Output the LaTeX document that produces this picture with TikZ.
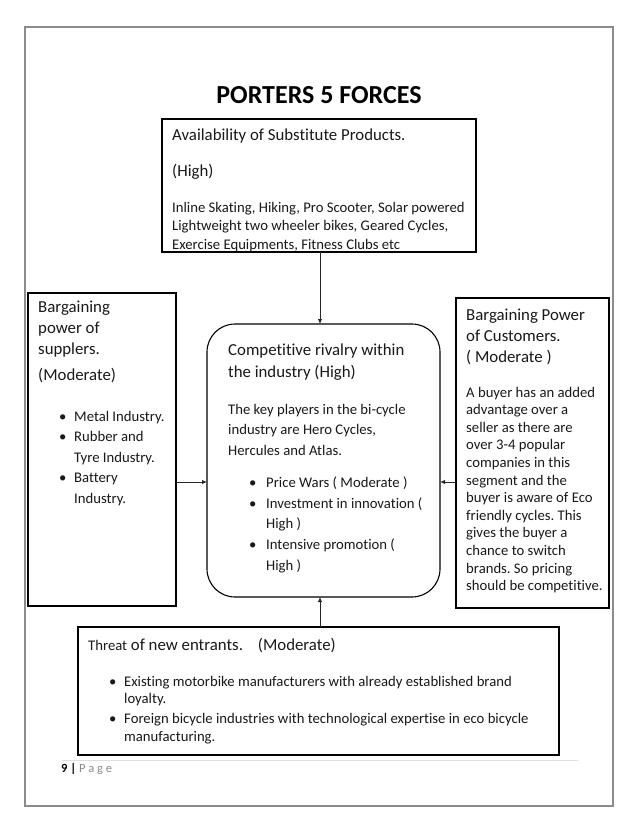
\documentclass[tikz,border=0pt]{standalone}
\usepackage{fontspec}
\setmainfont[Ligatures=NoCommon]{Carlito}
\usetikzlibrary{arrows.meta}
\frenchspacing
\begin{document}
\begin{tikzpicture}[x=1pt,y=-1pt,
  box/.style={draw=black,line width=1.1pt,inner sep=0pt,outer sep=0pt,anchor=north west},
  hd/.style={anchor=base west,inner sep=0pt,text=black!90,font=\fontsize{16.8}{20}\selectfont},
  bd/.style={anchor=base west,inner sep=0pt,text=black!90,font=\fontsize{14.7}{18}\selectfont},
  arr/.style={draw=black!85,line width=0.9pt,-{Latex[length=5pt,width=4.5pt]}}
]
\path[use as bounding box] (0,0) rectangle (638,826);
\fill[white] (0,0) rectangle (638,826);
% page border
\draw[black!45,line width=1.6pt] (25,27) rectangle (613,806);
\draw[black!12,line width=0.8pt] (62,760) -- (578,760);

% title
\node[anchor=base,inner sep=0pt,font=\bfseries\fontsize{26}{30}\selectfont] (title) at (319,104) {PORTERS 5 FORCES};

% boxes
\node[box,minimum width=314pt,minimum height=133pt] (sub) at (162,119) {};
\node[box,minimum width=148pt,minimum height=313pt] (sup) at (28,293) {};
\node[box,rounded corners=28pt,minimum width=233pt,minimum height=273pt] (mid) at (207,324) {};
\node[box,minimum width=153pt,minimum height=310pt] (cus) at (456,298) {};
\node[box,minimum width=481pt,minimum height=128pt] (ent) at (78,627) {};

% arrows
\coordinate (ay) at (0,482);
\coordinate (ax) at (320,0);
\draw[arr] (sub.south -| ax) -- (mid.north -| ax);
\draw[arr] (sup.east |- ay) -- (mid.west |- ay);
\draw[arr] (cus.west |- ay) -- (mid.east |- ay);
\draw[arr] (ent.north -| ax) -- (mid.south -| ax);

% substitute box text
\node[hd] (s1) at (172,141) {Availability of Substitute Products.};
\node[hd] (s2) at (172,177) {(High)};
\node[bd] (s3) at (172,212) {Inline Skating, Hiking, Pro Scooter, Solar powered};
\node[bd] (s4) at (172,230.5) {Lightweight two wheeler bikes, Geared Cycles,};
\node[bd] (s5) at (172,249) {Exercise Equipments, Fitness Clubs etc};

% suppliers box text
\node[hd] (p1) at (38,312) {Bargaining};
\node[hd] (p2) at (38,333) {power of};
\node[hd] (p3) at (38,354) {supplers.};
\node[hd] (p4) at (38,380) {(Moderate)};
\node[bd] (pb1) at (59,421) {•};
\node[bd] (p5) at (74,421) {Metal Industry.};
\node[bd] (pb2) at (59,441.5) {•};
\node[bd] (p6) at (74,441.5) {Rubber and};
\node[bd] (p7) at (74,462) {Tyre Industry.};
\node[bd] (pb3) at (59,482.5) {•};
\node[bd] (p8) at (74,482.5) {Battery};
\node[bd] (p9) at (74,503) {Industry.};

% rivalry box text
\node[hd] (m1) at (228,355) {Competitive rivalry within};
\node[hd] (m2) at (228,377) {the industry (High)};
\node[bd] (m3) at (228,414) {The key players in the bi-cycle};
\node[bd] (m4) at (228,434.5) {industry are Hero Cycles,};
\node[bd] (m5) at (228,455) {Hercules and Atlas.};
\node[bd] (mb1) at (249,487) {•};
\node[bd] (m6) at (266,487) {Price Wars ( Moderate )};
\node[bd] (mb2) at (249,508) {•};
\node[bd] (m7) at (266,508) {Investment in innovation (};
\node[bd] (m8) at (266,528.5) {High )};
\node[bd] (mb3) at (249,549) {•};
\node[bd] (m9) at (266,549) {Intensive promotion (};
\node[bd] (m10) at (266,570) {High )};

% customers box text
\node[hd] (c1) at (466,320) {Bargaining Power};
\node[hd] (c2) at (466,341) {of Customers.};
\node[hd] (c3) at (466,362) {( Moderate )};
\node[bd] (c4) at (466,397) {A buyer has an added};
\node[bd] (c5) at (466,414.6) {advantage over a};
\node[bd] (c6) at (466,432.2) {seller as there are};
\node[bd] (c7) at (466,449.8) {over 3-4 popular};
\node[bd] (c8) at (466,467.4) {companies in this};
\node[bd] (c9) at (466,485) {segment and the};
\node[bd] (c10) at (466,502.6) {buyer is aware of Eco};
\node[bd] (c11) at (466,520.2) {friendly cycles. This};
\node[bd] (c12) at (466,537.8) {gives the buyer a};
\node[bd] (c13) at (466,555.4) {chance to switch};
\node[bd] (c14) at (466,573) {brands. So pricing};
\node[bd] (c15) at (466,590.6) {should be competitive.};

% entrants box text
\node[hd] (e1) at (88,650) {{\fontsize{14.7}{18}\selectfont Threat} of new entrants.\hspace{15pt}(Moderate)};
\node[bd] (eb1) at (109,686) {•};
\node[bd] (e2) at (124,686) {Existing motorbike manufacturers with already established brand};
\node[bd] (e3) at (124,703.5) {loyalty.};
\node[bd] (eb2) at (109,723) {•};
\node[bd] (e4) at (124,723) {Foreign bicycle industries with technological expertise in eco bicycle};
\node[bd] (e5) at (124,741.5) {manufacturing.};

% footer
\node[anchor=base west,inner sep=0pt,font=\fontsize{12.5}{15}\selectfont] (foot) at (61,772) {\textbf{9 |} \textcolor{black!45}{P a g e}};
\end{tikzpicture}
\end{document}
